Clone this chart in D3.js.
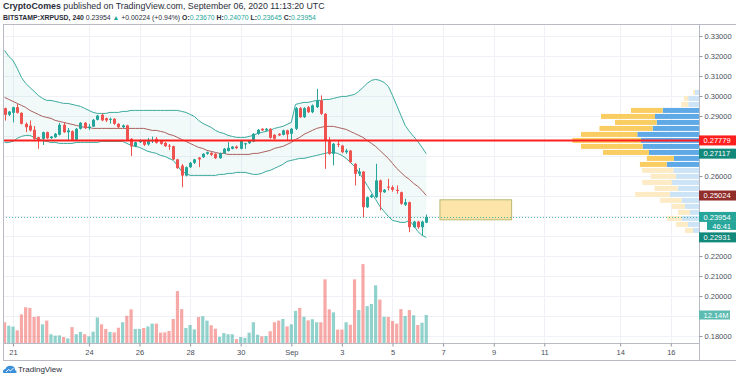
<!DOCTYPE html>
<html><head><meta charset="utf-8">
<script src="https://cdn.jsdelivr.net/npm/d3@7"></script>
<style>
html,body{margin:0;padding:0;background:#fff;}
svg{display:block;font-family:"Liberation Sans",Arial,sans-serif;}
</style></head><body>
<svg id="c" width="736" height="380"></svg>
<script>
// ---------------- DATA ----------------
const firstCandle = "2020-08-20T16:00:00Z";
const candleHours = 4;
const opens = [.2939,.2906,.2916,.2944,.2916,.2861,.2852,.2831,.2794,.2786,.2819,.2789,.2794,.2806,.2856,.2819,.2824,.2781,.2836,.2866,
 .2839,.2847,.2881,.2906,.2889,.2881,.2886,.2861,.2844,.2853,.2786,.2748,.2769,.2778,.2758,.2773,.2786,.2775,.2766,.2752,
 .2749,.2683,.2652,.2602,.2644,.2666,.2692,.2694,.2711,.2716,.2711,.2689,.2714,.2725,.2736,.2747,.2736,.2758,.2764,.2772,
 .2811,.2836,.2828,.2836,.2806,.2811,.2806,.2828,.2811,.2836,.2939,.2894,.2944,.2919,.2944,.2978,.2911,.2778,.2711,.2761,
 .2752,.2719,.2727,.2661,.2611,.2622,.2444,.2494,.2494,.2578,.2519,.2547,.2544,.2531,.2519,.2456,.2469,.2344,.2372,.2344,.2367];
const highs = [.2942,.2925,.2946,.2960,.2918,.2868,.2878,.2850,.2796,.2822,.2822,.2800,.2815,.2866,.2866,.2840,.2828,.2840,.2870,.2870,
 .2860,.2885,.2906,.2912,.2892,.2892,.2889,.2864,.2858,.2856,.2789,.2772,.2782,.2781,.2790,.2797,.2795,.2778,.2770,.2760,
 .2752,.2686,.2660,.2648,.2670,.2686,.2695,.2714,.2722,.2718,.2714,.2717,.2740,.2769,.2750,.2753,.2778,.2766,.2781,.2815,
 .2835,.2839,.2840,.2839,.2809,.2814,.2832,.2832,.2840,.2945,.2945,.2944,.2950,.2958,.3036,.3003,.2914,.2794,.2765,.2778,
 .2756,.2736,.2730,.2664,.2640,.2625,.2498,.2510,.2661,.2582,.2535,.2586,.2553,.2553,.2522,.2486,.2472,.2376,.2376,.2376,.2407];
const lows = [.2877,.2900,.2868,.2912,.2858,.2819,.2822,.2781,.2736,.2755,.2785,.2786,.2790,.2803,.2815,.2780,.2777,.2778,.2832,.2835,
 .2830,.2845,.2878,.2874,.2870,.2862,.2856,.2838,.2840,.2776,.2699,.2744,.2765,.2750,.2752,.2765,.2762,.2756,.2745,.2730,
 .2680,.2636,.2544,.2598,.2640,.2660,.2644,.2690,.2706,.2700,.2685,.2686,.2711,.2722,.2733,.2735,.2733,.2736,.2760,.2769,
 .2806,.2825,.2825,.2786,.2782,.2800,.2803,.2780,.2780,.2830,.2890,.2890,.2915,.2914,.2940,.2905,.2636,.2706,.2653,.2744,
 .2714,.2711,.2664,.2553,.2600,.2394,.2440,.2490,.2490,.2428,.2515,.2528,.2522,.2511,.2456,.2450,.2319,.2340,.2336,.2303,.23645];
const closes = [.2906,.2922,.2944,.2916,.2861,.2844,.2828,.2786,.2781,.2819,.2789,.2797,.2811,.2856,.2819,.2828,.2781,.2836,.2866,.2839,
 .2847,.2881,.2902,.2878,.2878,.2886,.2861,.2844,.2853,.2781,.2748,.2769,.2778,.2756,.2780,.2780,.2766,.2761,.2749,.2748,
 .2683,.2639,.2602,.2644,.2666,.2683,.2683,.2711,.2719,.2706,.2689,.2714,.2736,.2741,.2747,.2739,.2775,.2764,.2778,.2811,
 .2831,.2828,.2836,.2791,.2786,.2803,.2828,.2808,.2836,.2939,.2894,.2939,.2919,.2953,.2978,.2911,.2778,.2711,.2761,.2756,
 .2719,.2727,.2669,.2611,.2622,.2444,.2494,.2503,.2578,.2519,.2531,.2544,.2531,.2525,.2461,.2469,.2344,.2372,.2344,.2372,.23954];
const volumesM = [9.0,7.5,7.1,5.5,12.4,15.5,15.2,11.3,11.6,8.1,9.7,3.8,3.2,3.3,2.6,2.0,6.9,3.8,4.8,3.8,
 2.9,4.9,11.1,8.1,6.1,4.8,4.6,6.6,9.0,11.8,14.6,6.1,6.1,6.5,7.2,8.4,8.4,4.5,4.6,5.2,
 10.4,22.5,14.7,6.5,7.8,5.9,11.3,11.6,9.7,7.7,6.2,2.7,4.3,3.8,3.8,1.7,2.6,2.2,4.5,9.0,
 3.6,2.9,3.0,5.1,9.0,9.7,10.4,7.2,8.1,13.9,15.2,11.4,9.8,10.3,9.0,9.0,27.6,14.6,13.3,5.8,
 5.8,9.0,7.9,27.6,14.3,34.2,16.0,16.9,25.0,18.8,11.4,11.3,9.5,8.4,14.7,11.7,14.3,12.0,7.8,8.8,12.14];
const bbUpper = [.3228,.3198,.3178,.3138,.3093,.3063,.3043,.3023,.3003,.2988,.2978,.2978,.2973,.2968,.2963,.2963,.2958,.2953,.2948,.2938,
 .2928,.2918,.2913,.2913,.2913,.2918,.2918,.2918,.2923,.2923,.2928,.2928,.2928,.2928,.2928,.2928,.2928,.2928,.2928,.2928,
 .2928,.2928,.2923,.2918,.2908,.2898,.2878,.2863,.2853,.2843,.2828,.2818,.2813,.2803,.2798,.2793,.2793,.2793,.2798,.2803,
 .2813,.2818,.2823,.2828,.2838,.2843,.2848,.2858,.2868,.2958,.2963,.2968,.2968,.2973,.2978,.2978,.2983,.2983,.2988,.2993,
 .2998,.2998,.3003,.3008,.3023,.3043,.3063,.3078,.3083,.3078,.3068,.3048,.3003,.2953,.2903,.2853,.2823,.2798,.2773,.2743,.27117];
const bbMiddle = [.2993,.2983,.2973,.2963,.2953,.2943,.2928,.2918,.2908,.2898,.2893,.2888,.2878,.2873,.2868,.2863,.2858,.2853,.2848,.2843,
 .2843,.2838,.2838,.2838,.2838,.2838,.2838,.2838,.2838,.2838,.2838,.2838,.2838,.2838,.2833,.2828,.2828,.2823,.2818,.2808,
 .2803,.2793,.2783,.2773,.2763,.2753,.2743,.2738,.2728,.2723,.2718,.2713,.2713,.2708,.2708,.2708,.2708,.2708,.2708,.2713,
 .2713,.2718,.2723,.2728,.2738,.2743,.2748,.2758,.2768,.2783,.2793,.2808,.2818,.2828,.2838,.2843,.2848,.2848,.2848,.2843,
 .2838,.2833,.2823,.2813,.2803,.2793,.2778,.2763,.2748,.2728,.2708,.2688,.2663,.2638,.2618,.2598,.2583,.2563,.2548,.2528,.25024];
const bbLower = [.2768,.2768,.2773,.2788,.2798,.2803,.2803,.2793,.2783,.2778,.2773,.2768,.2768,.2763,.2763,.2763,.2763,.2768,.2768,.2768,
 .2768,.2768,.2768,.2773,.2773,.2773,.2773,.2773,.2773,.2763,.2753,.2748,.2743,.2733,.2723,.2718,.2713,.2703,.2698,.2688,
 .2678,.2653,.2623,.2613,.2603,.2603,.2603,.2603,.2603,.2603,.2603,.2608,.2608,.2613,.2613,.2618,.2618,.2618,.2613,.2608,
 .2608,.2613,.2623,.2628,.2638,.2648,.2658,.2673,.2678,.2683,.2688,.2688,.2693,.2698,.2703,.2708,.2713,.2718,.2718,.2713,
 .2703,.2688,.2668,.2648,.2618,.2588,.2553,.2518,.2483,.2448,.2423,.2398,.2378,.2373,.2368,.2368,.2378,.2353,.2323,.2303,.22931];

const priceTicks = [0.33,0.32,0.31,0.30,0.29,0.28,0.27,0.26,0.25,0.24,0.23,0.22,0.21,0.20,0.19,0.18];
const dateTicks = ["2020-08-21","2020-08-24","2020-08-26","2020-08-28","2020-08-30","2020-09-01","2020-09-03","2020-09-05","2020-09-07","2020-09-09","2020-09-11","2020-09-14","2020-09-16"];
const dateTickLabels = ["21","24","26","28","30","Sep","3","5","7","9","11","14","16"];

// visible-range volume profile (rows of 0.003)
const profilePrices = [.30179,.29879,.29579,.29279,.28979,.28679,.28379,.28079,.27779,.27479,.27179,.26879,.26579,.26279,.25979,.25679,.25379,.25079,.24779,.24479,.24179,.23879,.23579,.23279];
const profileDown = [1.3,2.8,4.6,20.6,35.1,27.1,34.6,36.6,44.4,40.1,29.9,17.6,17.4,20.3,16.4,19.3,15.1,22.6,14.1,8.5,7.8,9.6,7.8,5.2];
const profileUp   = [2.6,7.0,7.0,23.6,28.6,27.5,30.1,40.1,37.9,36.6,32.5,16.3,21.0,16.7,15.0,17.6,13.8,18.9,11.2,9.1,5.9,11.1,7.2,3.9];
const profileValueArea = [0,0,0,1,1,1,1,1,1,1,1,1,1,0,0,0,0,0,0,0,0,0,0,0];

const levelPrice = 0.27779;
const zoneTop = 0.2481, zoneBottom = 0.2381;
const zoneStart = "2020-09-06T21:00:00Z", zoneEnd = "2020-09-09T17:00:00Z";
const lastPrice = 0.23954;
const countdown = "46:41";
const lastVolumeLabel = "12.14M";

// ---------------- LAYOUT ----------------
const L = 3, R = 699, T = 24, B = 343, AB = 360, W = 736;
const svg = d3.select("#c");
const up = "#26a69a", dn = "#ef5350";
const fmt = d3.format(".5f");

const x = d3.scaleUtc().domain([new Date("2020-08-21T00:00:00Z"), new Date("2020-09-16T00:00:00Z")]).range([13, 670.8]);
const y = d3.scaleLinear().domain([0.18, 0.33]).range([336, 36]);
const yVol = d3.scaleLinear().domain([0, 12.14]).range([B, 315]);

const t0 = Date.parse(firstCandle);
const candles = opens.map((o, i) => ({
  t: new Date(t0 + i * candleHours * 3600e3), o, h: highs[i], l: lows[i], c: closes[i], v: volumesM[i],
  u: bbUpper[i], m: bbMiddle[i], lo: bbLower[i]
}));

svg.append("defs").append("clipPath").attr("id", "plot")
  .append("rect").attr("x", L).attr("y", T).attr("width", R - L).attr("height", B - T);

// grid
const grid = svg.append("g");
grid.selectAll(".hg").data(priceTicks).join("line")
  .attr("x1", L).attr("x2", R).attr("y1", d => Math.round(y(d)) + 0.5).attr("y2", d => Math.round(y(d)) + 0.5)
  .attr("stroke", "#eff1f7");
grid.selectAll(".vg").data(dateTicks).join("line")
  .attr("x1", d => Math.round(x(new Date(d + "T00:00:00Z"))) + 0.5).attr("x2", d => Math.round(x(new Date(d + "T00:00:00Z"))) + 0.5)
  .attr("y1", T).attr("y2", B).attr("stroke", "#eff1f7");

const plot = svg.append("g").attr("clip-path", "url(#plot)");

// volume profile
const pMax = d3.max(profileDown.map((d, i) => d + profileUp[i]));
const pw = d3.scaleLinear().domain([0, pMax]).range([0, 126.6]);
const rowH = Math.abs(y(0) - y(0.003));
const prof = plot.append("g");
profilePrices.forEach((p, i) => {
  const yc = y(p), va = profileValueArea[i];
  const wu = pw(profileUp[i]), wd = pw(profileDown[i]);
  prof.append("rect").attr("x", R - wu).attr("y", yc - rowH / 2 + 0.5).attr("width", wu).attr("height", rowH - 1)
    .attr("fill", va ? "#5fa9e6" : "#cde3f6");
  prof.append("rect").attr("x", R - wu - wd).attr("y", yc - rowH / 2 + 0.5).attr("width", wd).attr("height", rowH - 1)
    .attr("fill", va ? "#f9cd62" : "#fdebc6");
});

// volume bars
plot.append("g").selectAll("rect").data(candles).join("rect")
  .attr("x", d => x(d.t) - 1.6).attr("width", 3.2)
  .attr("y", d => yVol(d.v)).attr("height", d => B - yVol(d.v))
  .attr("fill", d => d.c >= d.o ? up : dn).attr("fill-opacity", 0.5);

// bollinger
plot.append("path").datum(candles)
  .attr("d", d3.area().x(d => x(d.t)).y0(d => y(d.lo)).y1(d => y(d.u)))
  .attr("fill", up).attr("fill-opacity", 0.06);
const line = k => d3.line().x(d => x(d.t)).y(d => y(d[k]));
plot.append("path").datum(candles).attr("d", line("u")).attr("fill", "none").attr("stroke", "#3aa99d").attr("stroke-width", 1);
plot.append("path").datum(candles).attr("d", line("lo")).attr("fill", "none").attr("stroke", "#3aa99d").attr("stroke-width", 1);
plot.append("path").datum(candles).attr("d", line("m")).attr("fill", "none").attr("stroke", "#a9605c").attr("stroke-width", 1);

// zone
plot.append("rect")
  .attr("x", x(new Date(zoneStart))).attr("y", y(zoneTop))
  .attr("width", x(new Date(zoneEnd)) - x(new Date(zoneStart))).attr("height", y(zoneBottom) - y(zoneTop))
  .attr("fill", "#fde5a9").attr("stroke", "#b9b872").attr("stroke-width", 1);

// current price dotted line
plot.append("line").attr("x1", L).attr("x2", R).attr("y1", Math.round(y(lastPrice)) + 0.5).attr("y2", Math.round(y(lastPrice)) + 0.5)
  .attr("stroke", up).attr("stroke-dasharray", "1,2").attr("stroke-opacity", 0.8);

// candles
const cg = plot.append("g").selectAll("g").data(candles).join("g");
cg.append("line").attr("x1", d => Math.round(x(d.t)) + 0.5).attr("x2", d => Math.round(x(d.t)) + 0.5)
  .attr("y1", d => y(d.h)).attr("y2", d => y(d.l)).attr("stroke", d => d.c >= d.o ? up : dn);
cg.append("rect").attr("x", d => Math.round(x(d.t)) - 1).attr("width", 3)
  .attr("y", d => y(Math.max(d.o, d.c))).attr("height", d => Math.max(1, Math.abs(y(d.o) - y(d.c))))
  .attr("fill", d => d.c >= d.o ? up : dn);

// horizontal level
plot.append("line").attr("x1", L).attr("x2", R).attr("y1", y(levelPrice)).attr("y2", y(levelPrice))
  .attr("stroke", "#ff1f1f").attr("stroke-width", 2);

// frame
const fr = svg.append("g").attr("stroke", "#b8bbc4").attr("stroke-width", 1);
fr.append("line").attr("x1", L).attr("x2", W).attr("y1", T + 0.5).attr("y2", T + 0.5);
fr.append("line").attr("x1", L + 0.5).attr("x2", L + 0.5).attr("y1", T).attr("y2", AB);
fr.append("line").attr("x1", R + 0.5).attr("x2", R + 0.5).attr("y1", T).attr("y2", AB);
fr.append("line").attr("x1", L).attr("x2", R).attr("y1", B + 0.5).attr("y2", B + 0.5);
fr.append("line").attr("x1", L).attr("x2", W).attr("y1", AB + 0.5).attr("y2", AB + 0.5);

// price axis labels (boxes) positions, used to hide colliding tick labels like TradingView does
const boxes = [
  { v: y(levelPrice), t: fmt(levelPrice), bg: "#ff1f1f" },
  { v: y(bbUpper[bbUpper.length - 1]), t: fmt(bbUpper[bbUpper.length - 1]), bg: "#13897b" },
  { v: y(bbMiddle[bbMiddle.length - 1]), t: fmt(bbMiddle[bbMiddle.length - 1]), bg: "#912d2b" },
  { v: y(lastPrice), t: fmt(lastPrice), bg: up },
  { v: y(lastPrice) + 9, t: countdown, bg: up, o: { x0: 707, anchor: "end", h: 8 } },
  { v: y(bbLower[bbLower.length - 1]), t: fmt(bbLower[bbLower.length - 1]), bg: "#13897b" },
  { v: yVol(volumesM[volumesM.length - 1]), t: lastVolumeLabel, bg: "#5cbcb1", o: { x1: 730, h: 9 } }
];
const visibleTicks = priceTicks.filter(p => boxes.every(b => Math.abs(y(p) - b.v) > 9.5));

// price axis
const yAxis = svg.append("g").attr("transform", `translate(${R + 0.5},0)`)
  .call(d3.axisRight(y).tickValues(visibleTicks).tickFormat(fmt).tickSize(3).tickPadding(2));
yAxis.select(".domain").remove();
yAxis.selectAll(".tick line").attr("stroke", "#9598a1");
yAxis.selectAll(".tick text").attr("fill", "#4a4e5a").style("font-size", "7.5px").style("font-family", "Liberation Sans, Arial, sans-serif");

// time axis
const xAxis = svg.append("g").attr("transform", `translate(0,${B + 0.5})`)
  .call(d3.axisBottom(x).tickValues(dateTicks.map(d => new Date(d + "T00:00:00Z")))
    .tickFormat((d, i) => dateTickLabels[i]).tickSize(3).tickPadding(3));
xAxis.select(".domain").remove();
xAxis.selectAll(".tick line").attr("stroke", "#9598a1");
xAxis.selectAll(".tick text").attr("fill", "#4a4e5a").style("font-size", "7.5px").style("font-family", "Liberation Sans, Arial, sans-serif");

// axis label boxes
function label(val, text, bg, opts = {}) {
  const h = opts.h || 10, x0 = opts.x0 || R, x1 = opts.x1 || W;
  const g = svg.append("g");
  g.append("rect").attr("x", x0).attr("y", val - h / 2).attr("width", x1 - x0).attr("height", h).attr("fill", bg);
  g.append("text").attr("x", opts.anchor === "end" ? x1 - 5 : x0 + 4.5).attr("y", val).attr("dy", "0.35em")
    .attr("text-anchor", opts.anchor || "start")
    .attr("fill", "#fff").style("font-size", "7.5px").text(text);
}
boxes.forEach(b => label(b.v, b.t, b.bg, b.o));

// header
const h1 = svg.append("text").attr("x", 3).attr("y", 9).style("font-size", "8.5px").attr("fill", "#2a2e39");
h1.append("tspan").style("font-weight", "bold").text("CryptoComes");
h1.append("tspan").text(" published on TradingView.com, September 06, 2020 11:13:20 UTC");
const h2 = svg.append("text").attr("x", 3).attr("y", 19.5).style("font-size", "8.5px").attr("fill", "#2a2e39");
h2.append("tspan").style("font-weight", "bold").text("BITSTAMP:XRPUSD, 240");
h2.append("tspan").text(" 0.23954 ");
h2.append("tspan").attr("fill", up).text("▲");
h2.append("tspan").text(" +0.00224 (+0.94%) ");
[["O:", "0.23670"], ["H:", "0.24070"], ["L:", "0.23645"], ["C:", "0.23954"]].forEach(([k, v], i) => {
  h2.append("tspan").style("font-weight", "bold").text((i ? " " : "") + k);
  h2.append("tspan").attr("fill", up).text(v);
});
[[h1, 322], [h2, 313]].forEach(([t, target]) => {
  const w = t.node().getComputedTextLength();
  t.style("font-size", (8.5 * target / w).toFixed(2) + "px");
});

// TradingView logo
const logo = svg.append("g").attr("transform", "translate(3,364)");
logo.append("path").attr("d", "M0,9 L3.5,3 L6,6 L8.5,1.5 L13,9 Z").attr("fill", "#3b8fd9");
logo.append("path").attr("d", "M1.5,9 Q0,9 0,7.5 Q0,5 3,5 Q4,1 8,2 Q12,2 12,6 Q14,6.5 13.5,9 Z").attr("fill", "#3b8fd9");
logo.append("path").attr("d", "M3,8 L5.5,5.5 L7.5,7 L10.5,4").attr("stroke", "#fff").attr("stroke-width", 1).attr("fill", "none");
logo.append("text").attr("x", 15).attr("y", 8).style("font-size", "8px").attr("fill", "#2a2e39").text("TradingView");
</script>
</body></html>
